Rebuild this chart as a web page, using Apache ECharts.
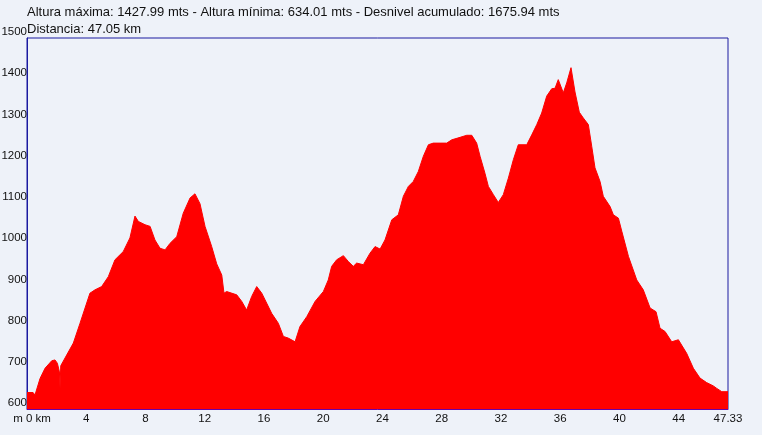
<!DOCTYPE html>
<html>
<head>
<meta charset="utf-8">
<script src="https://cdn.jsdelivr.net/npm/echarts@6/dist/echarts.min.js"></script>
<style>
  html, body { margin: 0; padding: 0; background: #eef2f9; }
  #perfil { width: 762px; height: 435px; }
</style>
</head>
<body>
<div id="perfil"></div>
<script>
var distancias = [0, 0.41, 0.54, 0.88, 1.22, 1.67, 1.89, 2.05, 2.19, 2.23, 2.28, 2.34, 2.68, 3.13, 3.58, 3.92,
    4.25, 4.59, 5.04, 5.49, 5.94, 6.50, 6.95, 7.29, 7.52, 7.97, 8.31, 8.64, 8.98, 9.32, 9.66, 10.11,
    10.55, 11.01, 11.34, 11.68, 12.02, 12.47, 12.81, 13.15, 13.30, 13.48, 14.16, 14.50, 14.83, 15.17,
    15.51, 15.85, 16.18, 16.52, 16.97, 17.31, 17.64, 18.10, 18.43, 18.89, 19.45, 20.01, 20.34, 20.57,
    20.91, 21.36, 21.69, 22.03, 22.26, 22.71, 23.16, 23.50, 23.84, 24.17, 24.63, 25.07, 25.41, 25.75,
    26.08, 26.42, 26.76, 27.10, 27.43, 27.89, 28.34, 28.68, 29.24, 29.69, 30.03, 30.36, 30.59, 30.92,
    31.15, 31.49, 31.82, 32.16, 32.50, 32.84, 33.17, 33.74, 34.08, 34.42, 34.75, 35.09, 35.43, 35.65,
    35.87, 36.21, 36.44, 36.73, 37.00, 37.29, 37.56, 37.90, 38.13, 38.35, 38.69, 38.91, 39.37, 39.59,
    39.93, 40.16, 40.61, 41.17, 41.61, 42.07, 42.47, 42.74, 43.08, 43.53, 43.98, 44.54, 44.99, 45.44,
    45.89, 46.34, 46.57, 46.91, 47.33];
var alturas = [640, 640, 634, 674, 699, 717, 719, 711, 690, 650, 705, 707, 731, 760, 808, 845,
    881, 889, 897, 921, 962, 982, 1015, 1068, 1055, 1047, 1043, 1010, 990, 986, 1002, 1018,
    1075, 1112, 1122, 1098, 1043, 994, 952, 925, 881, 885, 877, 861, 840, 873,
    897, 881, 857, 832, 808, 776, 772, 763, 800, 824, 861, 885, 913, 946,
    962, 972, 958, 946, 954, 950, 978, 994, 988, 1010, 1059, 1071, 1116, 1140,
    1152, 1176, 1213, 1241, 1245, 1245, 1245, 1253, 1259, 1264, 1264, 1245, 1213, 1172,
    1140, 1120, 1101, 1120, 1160, 1205, 1241, 1241, 1265, 1290, 1318, 1359, 1377, 1378,
    1399, 1367, 1391, 1428, 1369, 1320, 1306, 1290, 1237, 1185, 1152, 1116, 1091, 1071,
    1063, 1031, 970, 913, 889, 845, 836, 796, 788, 763, 768, 735, 699, 675,
    664, 656, 650, 642, 642];

var resumen = 'Altura máxima: 1427.99 mts - Altura mínima: 634.01 mts - Desnivel acumulado: 1675.94 mts';
var distanciaTotal = 'Distancia: 47.05 km';

var puntos = [];
for (var i = 0; i < distancias.length; i++) {
    puntos.push([distancias[i], alturas[i]]);
}

var perfil = echarts.init(document.getElementById('perfil'));
var option = {
    backgroundColor: '#eef2f9',
    animation: false,
    textStyle: { fontFamily: 'Liberation Sans, Arial, sans-serif' },
    title: {
        text: resumen + '\n' + distanciaTotal,
        left: 27,
        top: 4,
        padding: 0,
        textStyle: {
            fontSize: 13,
            fontWeight: 'normal',
            color: '#111',
            lineHeight: 17
        }
    },
    grid: {
        left: 27,
        right: 34,
        top: 38,
        bottom: 26,
        outerBoundsMode: 'none',
        containLabel: false,
        show: true,
        backgroundColor: 'transparent',
        borderColor: '#1a1aa0',
        borderWidth: 1
    },
    xAxis: {
        type: 'value',
        min: 0,
        max: 47.33,
        interval: 4,
        splitLine: { show: false },
        axisLine: { lineStyle: { color: '#6a00a8', width: 1 } },
        axisTick: { show: false },
        axisLabel: {
            margin: 4,
            fontSize: 11.5,
            color: '#111',
            formatter: function (v) {
                if (v === 0) return '{s|}m 0 km';
                return String(v);
            },
            rich: { s: { width: 10 } }
        }
    },
    yAxis: {
        type: 'value',
        min: 600,
        max: 1500,
        interval: 100,
        splitLine: { show: false },
        axisLine: { show: true, lineStyle: { color: '#1a1aa0', width: 1 } },
        axisTick: { show: false },
        axisLabel: {
            margin: 0,
            fontSize: 11.5,
            color: '#111',
            verticalAlign: 'bottom',
            formatter: function (v) { return String(v); }
        }
    },
    series: [{
        type: 'line',
        data: puntos,
        showSymbol: false,
        lineStyle: { color: '#ff0000', width: 1 },
        areaStyle: { color: '#ff0000', opacity: 1 }
    }]
};
perfil.setOption(option);
</script>
</body>
</html>
